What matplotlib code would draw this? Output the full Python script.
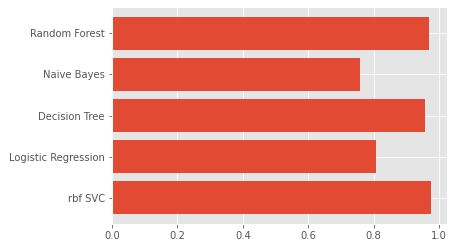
import matplotlib
matplotlib.use("Agg")
import matplotlib.pyplot as plt

plt.style.use("ggplot")

models = ["rbf SVC", "Logistic Regression", "Decision Tree", "Naive Bayes", "Random Forest"]
scores = [0.975, 0.809, 0.956, 0.760, 0.971]

fig = plt.figure(figsize=(453/72, 248/72), dpi=72)
ax = fig.add_axes([112/453, 1-224/248, (446.7-112)/453, (224-7)/248])
ax.barh(models, scores, color="#E24A33")
ax.set_xticks([0.0, 0.2, 0.4, 0.6, 0.8, 1.0])
fig.savefig("out.png", dpi=72)
